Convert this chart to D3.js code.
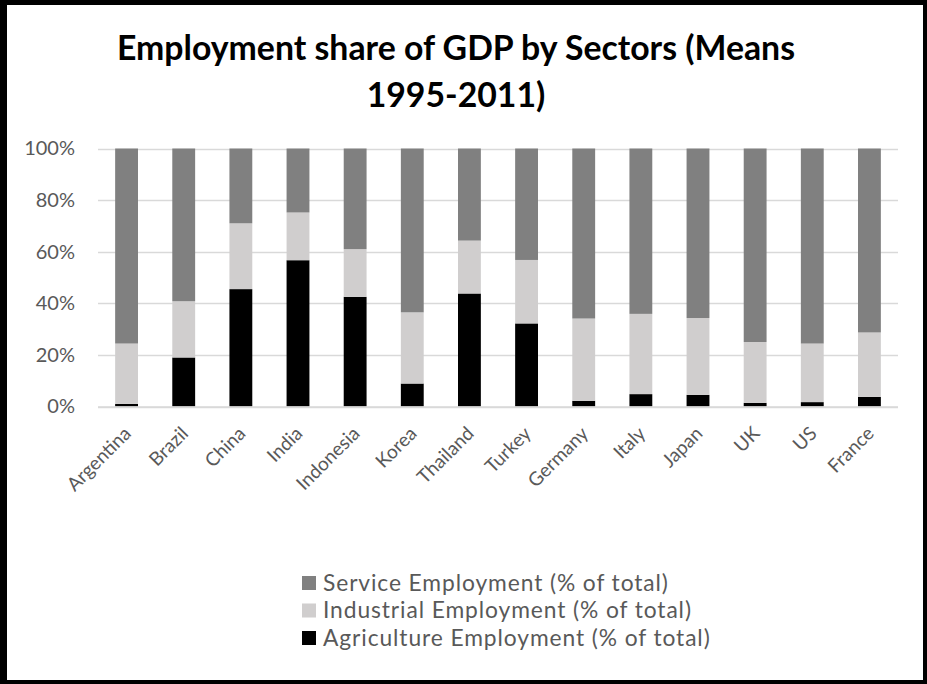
<!DOCTYPE html>
<html>
<head>
<meta charset="utf-8">
<script src="https://cdn.jsdelivr.net/npm/d3@7/dist/d3.min.js"></script>
<style>
  html, body { margin: 0; padding: 0; background: #fff; }
  svg { display: block; }
</style>
</head>
<body>
<svg id="chart" width="927" height="684"></svg>
<script>
// Mean employment shares by sector, 1995-2011 (fractions of total)
const countries = ["Argentina", "Brazil", "China", "India", "Indonesia", "Korea", "Thailand",
                   "Turkey", "Germany", "Italy", "Japan", "UK", "US", "France"];
const agriculture = [0.010, 0.190, 0.455, 0.567, 0.425, 0.089, 0.438, 0.322, 0.022, 0.048, 0.045, 0.014, 0.017, 0.037];
const industry    = [0.234, 0.218, 0.255, 0.185, 0.185, 0.276, 0.205, 0.246, 0.319, 0.311, 0.298, 0.236, 0.227, 0.250];
const service     = [0.756, 0.592, 0.290, 0.248, 0.390, 0.635, 0.357, 0.432, 0.659, 0.641, 0.657, 0.750, 0.756, 0.713];
const yTicks = [0, 0.2, 0.4, 0.6, 0.8, 1.0];

const seriesNames = ["Agriculture Employment (% of total)",
                     "Industrial Employment (% of total)",
                     "Service Employment (% of total)"];
const seriesColors = ["#000000", "#d0cece", "#808080"];

const svg = d3.select("#chart");
const W = 927, H = 684;
const FONT = "Lato, 'Open Sans', sans-serif";

// frame
svg.append("rect").attr("x", 0).attr("y", 0).attr("width", W).attr("height", H).attr("fill", "#000");
svg.append("rect").attr("x", 7).attr("y", 5).attr("width", W - 11).attr("height", H - 9).attr("fill", "#fff");

// title
const title = svg.append("text")
  .attr("text-anchor", "middle")
  .style("font-family", FONT)
  .style("font-weight", "700")
  .style("font-size", "33.8px")
  .attr("fill", "#000");
title.append("tspan").attr("x", 456).attr("y", 60).text("Employment share of GDP by Sectors (Means");
title.append("tspan").attr("x", 456).attr("y", 107).text("1995-2011)");

// scales
const x = d3.scaleBand().domain(countries).range([98, 898]).paddingInner(0.6).paddingOuter(0.3);
const y = d3.scaleLinear().domain([0, 1]).range([406.5, 148.5]);

// gridlines
svg.append("g").selectAll("line").data(yTicks).join("line")
  .attr("x1", 98).attr("x2", 898)
  .attr("y1", d => Math.round(y(d)) + 0.5).attr("y2", d => Math.round(y(d)) + 0.5)
  .attr("stroke", "#d9d9d9").attr("stroke-width", 1.5);

// y axis labels
const yAxis = d3.axisLeft(y).tickValues(yTicks).tickFormat(d3.format(".0%")).tickSize(0).tickPadding(0);
const gy = svg.append("g").attr("transform", "translate(75,0)").call(yAxis);
gy.select(".domain").remove();
gy.selectAll("text")
  .style("font-family", FONT)
  .style("font-size", "20px")
  .attr("fill", "#595959");

// stacked bars
const rows = countries.map((c, i) => ({ country: c, a: agriculture[i], ind: industry[i], s: service[i] }));
const stack = d3.stack().keys(["a", "ind", "s"]);
const layers = stack(rows);

svg.append("g").selectAll("g").data(layers).join("g")
  .attr("fill", (d, i) => seriesColors[i])
  .selectAll("rect").data(d => d).join("rect")
  .attr("x", d => x(d.data.country))
  .attr("width", x.bandwidth())
  .attr("y", d => y(d[1]))
  .attr("height", d => y(d[0]) - y(d[1]));

// x axis line
svg.append("line").attr("x1", 98).attr("x2", 898).attr("y1", 407).attr("y2", 407)
  .attr("stroke", "#d9d9d9").attr("stroke-width", 1.5);

// x axis labels (rotated)
svg.append("g").selectAll("text").data(countries).join("text")
  .attr("transform", d => `translate(${x(d) + x.bandwidth() / 2 + 1},${430}) rotate(-45)`)
  .attr("text-anchor", "end")
  .attr("dy", "0.35em")
  .style("font-family", FONT)
  .style("font-size", "19px")
  .attr("fill", "#595959")
  .text(d => d);

// legend (service on top)
const legendOrder = [2, 1, 0];
const lg = svg.append("g").selectAll("g").data(legendOrder).join("g")
  .attr("transform", (d, i) => `translate(302,${583 + i * 27.5})`);
lg.append("rect").attr("x", 0).attr("y", -7).attr("width", 14).attr("height", 14)
  .attr("fill", d => seriesColors[d]);
lg.append("text").attr("x", 21).attr("dy", "0.35em")
  .style("font-family", FONT)
  .style("font-size", "22.8px")
  .style("letter-spacing", "0.9px")
  .attr("fill", "#595959")
  .text(d => seriesNames[d]);
</script>
</body>
</html>
